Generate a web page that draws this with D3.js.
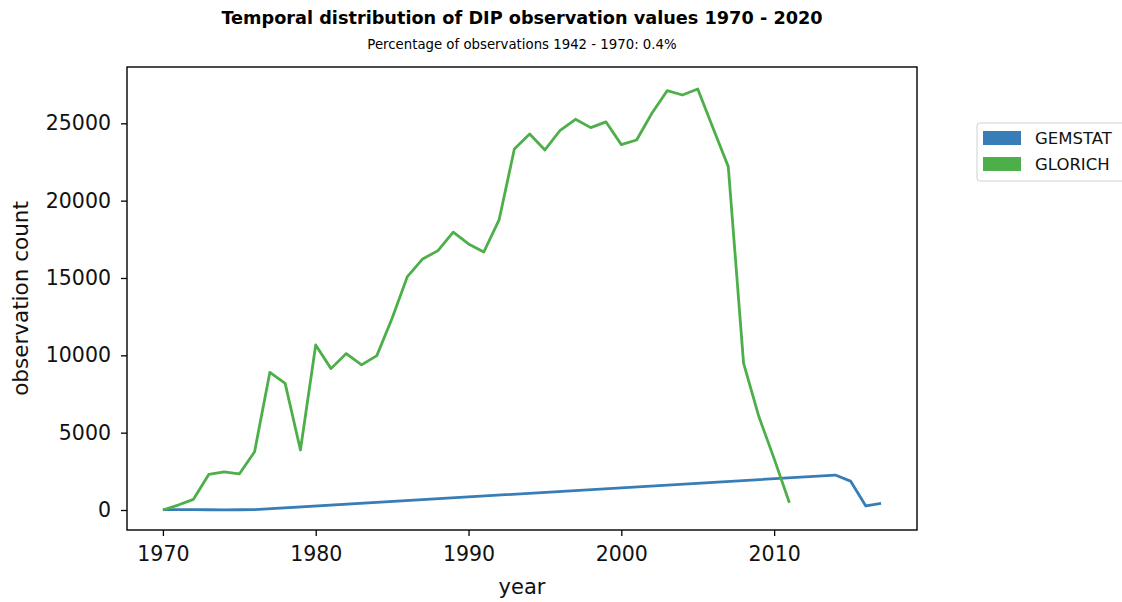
<!DOCTYPE html>
<html>
<head>
<meta charset="utf-8">
<script src="https://cdn.jsdelivr.net/npm/d3@7"></script>
<style>
body{margin:0;background:#fff;}
text{font-family:"DejaVu Sans",sans-serif;}
</style>
</head>
<body>
<svg id="chart" width="1122" height="602"></svg>
<script>
// data
var glorichYears=d3.range(1970,2012);
var glorichValues=[0,320,690,2300,2460,2330,3770,8900,8190,3880,
  10670,9140,10110,9380,9980,12400,15090,16230,16770,17960,
  17200,16680,18750,23340,24310,23280,24550,25260,24720,25090,
  23620,23920,25650,27110,26830,27220,24700,22200,9490,6040,
  3320,470];
var gemstatYears=[1970,1971,1972,1973,1974,1975,1976,2014,2015,2016,2017];
var gemstatValues=[20,30,25,15,10,15,20,2260,1870,260,430];
var seriesNames=["GEMSTAT","GLORICH"];
var seriesColors=["#377eb8","#4daf4a"];
var xTicks=[1970,1980,1990,2000,2010];
var yTicks=[0,5000,10000,15000,20000,25000];

var svg=d3.select("#chart");
var pLeft=127,pRight=917,pTop=67,pBottom=530; // plot frame

var x=d3.scaleLinear().domain([1967.65,2019.35]).range([pLeft,pRight]);
var y=d3.scaleLinear().domain([-1293,28640]).range([pBottom,pTop]);

// titles
svg.append("text").attr("x",(pLeft+pRight)/2).attr("y",24).attr("text-anchor","middle")
  .style("font-weight","bold").style("font-size","17.7px").text("Temporal distribution of DIP observation values 1970 - 2020");
svg.append("text").attr("x",(pLeft+pRight)/2).attr("y",48.5).attr("text-anchor","middle")
  .style("font-size","13.3px").text("Percentage of observations 1942 - 1970: 0.4%");

// axes
var xAxis=d3.axisBottom(x).tickValues(xTicks).tickFormat(d3.format("d")).tickSize(6).tickPadding(6);
var yAxis=d3.axisLeft(y).tickValues(yTicks).tickFormat(d3.format("d")).tickSize(6).tickPadding(10);
var gx=svg.append("g").attr("transform","translate(0,"+pBottom+")").call(xAxis);
var gy=svg.append("g").attr("transform","translate("+pLeft+",0)").call(yAxis);
[gx,gy].forEach(function(g){
  g.select(".domain").remove();
  g.selectAll(".tick line").attr("stroke","#000").attr("stroke-width",1.3);
  g.selectAll(".tick text").attr("fill","#111").style("font-size","20.5px").style("font-family","DejaVu Sans");
});
gx.selectAll(".tick text").attr("dy","0.95em");

// lines
var line=d3.line().x(function(d){return x(d[0]);}).y(function(d){return y(d[1]);});
var gem=d3.zip(gemstatYears,gemstatValues);
var glo=d3.zip(glorichYears,glorichValues);
svg.append("path").datum(gem).attr("d",line).attr("fill","none")
  .attr("stroke",seriesColors[0]).attr("stroke-width",2.8).attr("stroke-linejoin","round");
svg.append("path").datum(glo).attr("d",line).attr("fill","none")
  .attr("stroke",seriesColors[1]).attr("stroke-width",2.8).attr("stroke-linejoin","round");

// frame
svg.append("rect").attr("x",pLeft).attr("y",pTop).attr("width",pRight-pLeft).attr("height",pBottom-pTop)
  .attr("fill","none").attr("stroke","#000").attr("stroke-width",1.4);

// axis labels
svg.append("text").attr("x",(pLeft+pRight)/2).attr("y",594).attr("text-anchor","middle")
  .style("font-size","21px").attr("fill","#111").text("year");
svg.append("text").attr("transform","translate(28,"+((pTop+pBottom)/2)+") rotate(-90)")
  .attr("text-anchor","middle").style("font-size","21.5px").attr("fill","#111").text("observation count");

// legend
var lg=svg.append("g");
lg.append("rect").attr("x",977).attr("y",123).attr("width",150).attr("height",58)
  .attr("rx",3).attr("fill","#fff").attr("stroke","#d0d0d0").attr("stroke-width",1);
seriesNames.forEach(function(n,i){
  lg.append("rect").attr("x",983).attr("y",131+i*26).attr("width",38).attr("height",14).attr("fill",seriesColors[i]);
  lg.append("text").attr("x",1035).attr("y",144+i*26).style("font-size","16.5px").attr("fill","#111").text(n);
});
</script>
</body>
</html>
